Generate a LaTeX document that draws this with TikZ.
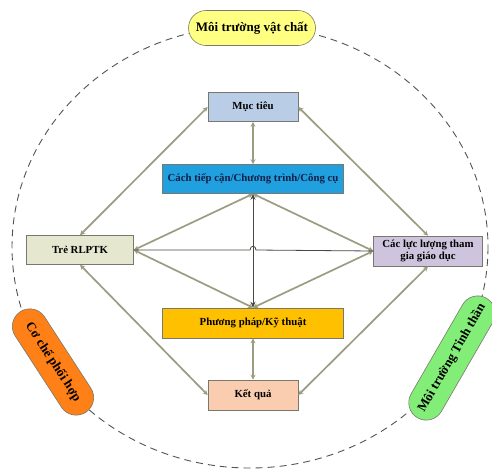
\documentclass[tikz,border=0pt]{standalone}
\usepackage{fontspec}
\setmainfont{Liberation Serif}
\usetikzlibrary{arrows.meta,shapes.misc}

\definecolor{linkcol}{RGB}{155,156,128}
\definecolor{edgecol}{RGB}{120,120,110}
\definecolor{pillyel}{RGB}{255,255,130}
\definecolor{pillora}{RGB}{255,128,22}
\definecolor{pillgre}{RGB}{130,238,120}
\definecolor{mtcol}{RGB}{186,205,230}
\definecolor{ctccol}{RGB}{32,160,222}
\definecolor{trecol}{RGB}{229,232,206}
\definecolor{llcol}{RGB}{206,196,221}
\definecolor{ppcol}{RGB}{255,192,0}
\definecolor{kqcol}{RGB}{250,205,176}
\definecolor{navy}{RGB}{20,30,70}

\begin{document}
\begin{tikzpicture}[x=1pt, y=-1pt,
    box/.style={draw=edgecol, line width=0.6pt, minimum height=29pt,
      font=\fontsize{10.8}{11.5}\selectfont\bfseries, align=center, inner sep=2pt},
    pill/.style={rounded rectangle, draw=edgecol, line width=0.6pt,
      minimum height=35pt, font=\fontsize{13}{14}\selectfont\bfseries, inner xsep=6pt},
    link/.style={linkcol, line width=1.7pt, {Stealth[length=5pt,width=5pt]}-{Stealth[length=5pt,width=5pt]}},
    thin/.style={edgecol!60!black, line width=0.8pt}]

  \useasboundingbox (0,0) rectangle (492,475);

  \draw[edgecol!70!black, line width=0.9pt, dash pattern=on 7pt off 5pt]
    (250,247) ellipse [x radius=238, y radius=221];

  \node[box, fill=mtcol, minimum width=90pt] (mt) at (253,107) {Mục tiêu};

  \node[box, fill=ctccol, minimum width=181pt, text=navy] (ctc) at (253,179) {Cách tiếp cận/Chương trình/Công cụ};

  \node[box, fill=trecol, minimum width=107pt] (tre) at (80,250) {Trẻ RLPTK};

  \node[box, fill=llcol, minimum width=109pt, minimum height=30pt] (llgd) at (428,251) {Các lực lượng tham\\gia giáo dục};

  \node[box, fill=ppcol, minimum width=181pt, minimum height=30pt] (pp) at (253,323) {Phương pháp/Kỹ thuật};

  \node[box, fill=kqcol, minimum width=90pt, minimum height=30pt] (kq) at (253,395) {Kết quả};

  \node[pill, fill=pillyel, minimum width=139pt] (vc) at (252,28) {Môi trường vật chất};

  \node[pill, fill=pillora, minimum width=132pt, rotate=-57] (ch) at (53,362) {Cơ chế phối hợp};

  \node[pill, fill=pillgre, minimum width=150pt, rotate=60] (tt) at (452,358) {Môi trường Tinh thần};

  \draw[link] (tre.north) -- (mt.west);
  \draw[link] (tre.south) -- (kq.west);
  \draw[link] (llgd.north) -- (mt.east);
  \draw[link] (llgd.south) -- (kq.east);

  \draw[link] (mt.south) -- (ctc.north);
  \draw[link] (pp.south) -- (kq.north);

  \draw[link] (tre.east) -- (ctc.south);
  \draw[link] (tre.east) -- (pp.north);
  \draw[link] (llgd.west) -- (ctc.south);
  \draw[link] (llgd.west) -- (pp.north);

  \draw[thin] (tre.east) -- (250,250) .. controls (250,245) and (256,245) .. (256,250) -- (llgd.west);
  \draw[thin, {Stealth[length=6pt,width=5pt]}-{Stealth[length=6pt,width=5pt]}] (ctc.south) -- (pp.north);

\end{tikzpicture}
\end{document}
